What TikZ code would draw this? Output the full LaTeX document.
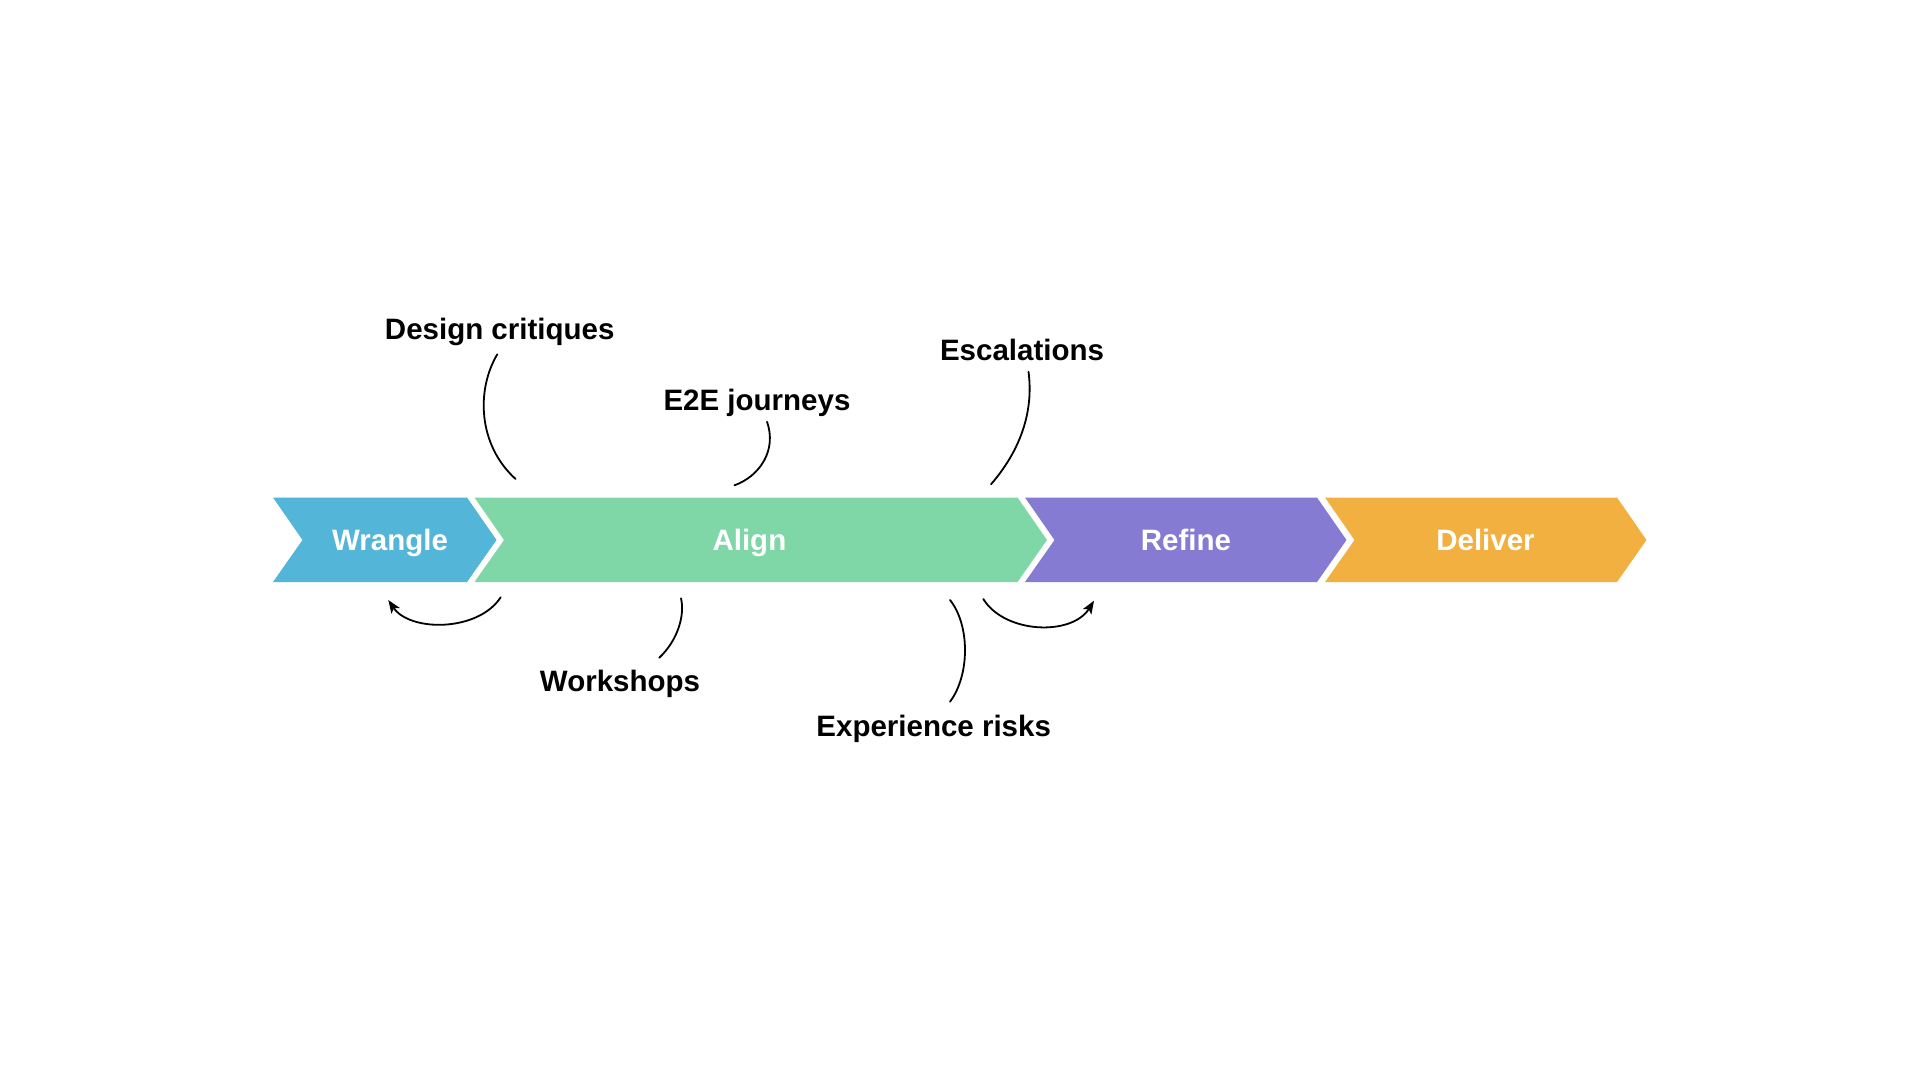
\documentclass[tikz,border=0pt]{standalone}
\usepackage{fontspec}
\setmainfont{Liberation Sans}
\usetikzlibrary{arrows.meta}
\definecolor{cwrangle}{HTML}{53B5D7}
\definecolor{calign}{HTML}{7FD6A7}
\definecolor{crefine}{HTML}{867BD2}
\definecolor{cdeliver}{HTML}{F2B041}
\begin{document}
\begin{tikzpicture}[x=1pt,y=-1pt,
  lbl/.style={font=\fontsize{29.5}{34}\selectfont\bfseries, anchor=base, inner sep=0pt, text=black},
  phase/.style={font=\fontsize{29.5}{34}\selectfont\bfseries, anchor=base, inner sep=0pt, text=white},
  conn/.style={line width=1.8pt, black, line cap=round},
  arr/.style={conn, -{Stealth[length=13pt,width=10pt,inset=3pt]}}]
\useasboundingbox[fill=white] (0,0) rectangle (1920,1080);
% chevrons
\fill[cwrangle] (273,497.5) -- (467,497.5) -- (496.5,540) -- (467,582) -- (273,582) -- (302.5,540) -- cycle;
\fill[calign] (474.5,497.5) -- (1017.5,497.5) -- (1047,540) -- (1017.5,582) -- (474.5,582) -- (504,540) -- cycle;
\fill[crefine] (1025,497.5) -- (1317,497.5) -- (1346.5,540) -- (1317,582) -- (1025,582) -- (1054.5,540) -- cycle;
\fill[cdeliver] (1325,497.5) -- (1617,497.5) -- (1646.5,540) -- (1617,582) -- (1325,582) -- (1354.5,540) -- cycle;
% phase labels
\node[phase] (wrangle) at (390,550.7) {Wrangle};
\node[phase] (align) at (749.4,550.7) {Align};
\node[phase] (refine) at (1186,550.7) {Refine};
\node[phase] (deliver) at (1485.5,550.7) {Deliver};
% annotation labels
\node[lbl] (design) at (499.7,339) {Design critiques};
\node[lbl] (e2e) at (757,410) {E2E journeys};
\node[lbl] (escal) at (1022,360.7) {Escalations};
\node[lbl] (work) at (620,691.5) {Workshops};
\node[lbl] (exp) at (933.7,736.7) {Experience risks};
% connector ends
\coordinate (dcA) at (497.3,354.3);
\coordinate (dcB) at (515.6,479);
\coordinate (eeA) at (767,421.7);
\coordinate (eeB) at (734.5,485.3);
\coordinate (esA) at (1028.5,371.7);
\coordinate (esB) at (991,484.3);
\coordinate (wsA) at (681,598.3);
\coordinate (wsB) at (659.3,657.7);
\coordinate (erA) at (950,600);
\coordinate (erB) at (950,701.7);
\coordinate (raA) at (983.3,599);
\coordinate (raB) at (1094,600.7);
\coordinate (laA) at (500.7,597.3);
\coordinate (laB) at (388.3,600);
% connectors
\draw[conn] (dcA) .. controls (476,390) and (478,445) .. (dcB);
\draw[conn] (eeA) .. controls (777,450) and (760,476) .. (eeB);
\draw[conn] (esA) .. controls (1033,405) and (1025,445) .. (esB);
\draw[conn] (wsA) .. controls (685,615) and (678,640) .. (wsB);
\draw[conn] (erA) .. controls (970,625) and (970,675) .. (erB);
\draw[arr] (raA) .. controls (1005,634) and (1072,636) .. (raB);
\draw[arr] (laA) .. controls (478,632) and (410,632) .. (laB);
\end{tikzpicture}
\end{document}
